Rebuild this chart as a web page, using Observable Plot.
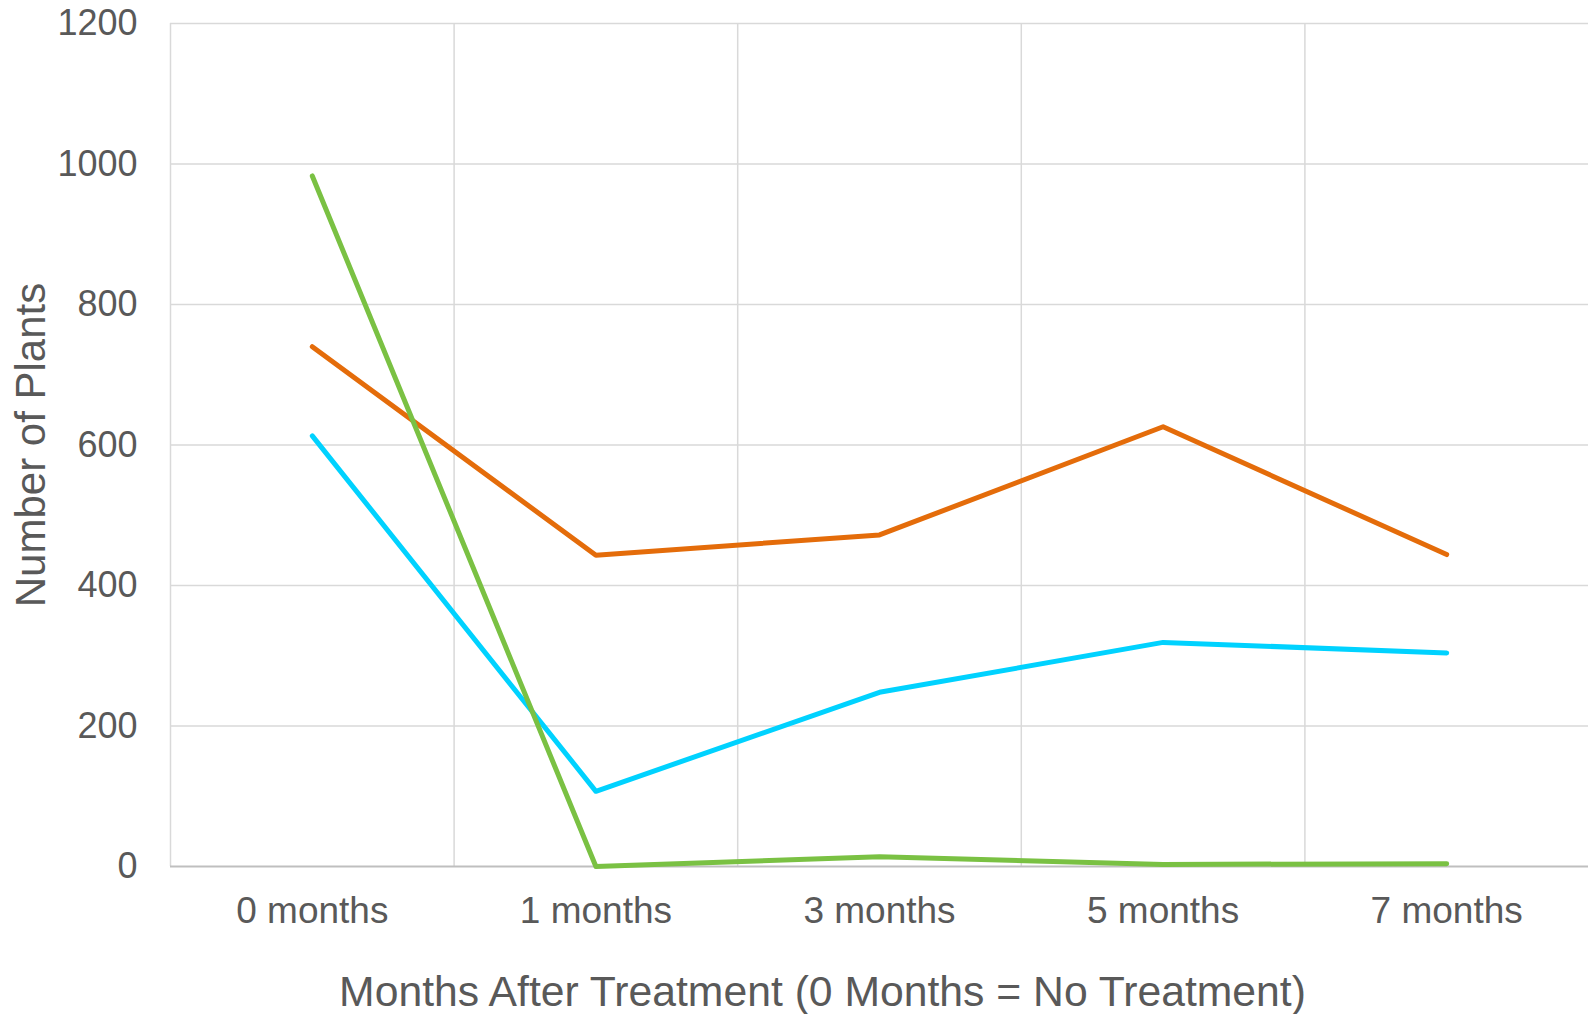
<!DOCTYPE html>
<html>
<head>
<meta charset="utf-8">
<script src="https://cdn.jsdelivr.net/npm/d3@7"></script>
<script src="https://cdn.jsdelivr.net/npm/@observablehq/plot@0.6"></script>
<style>
  html, body { margin: 0; padding: 0; background: #fff; }
  #chart svg { display: block; }
</style>
</head>
<body>
<div id="chart"></div>
<script>
// ---- Data ----
const categories = ["0 months", "1 months", "3 months", "5 months", "7 months"];
const seriesNames = ["Series 1", "Series 2", "Series 3"];
const seriesColors = ["#E46C0A", "#00D2FF", "#7AC143"];
const series1 = [740, 443, 472, 626, 444];
const series2 = [613, 107, 248, 319, 304];
const series3 = [983, 0, 14, 3, 4];
const yTicks = [0, 200, 400, 600, 800, 1000, 1200];
const xTitle = "Months After Treatment (0 Months = No Treatment)";
const yTitle = "Number of Plants";

// ---- Build table ----
const allSeries = [series1, series2, series3];
const rows = allSeries.flatMap((vals, s) =>
  vals.map((v, i) => ({ series: seriesNames[s], i, value: v }))
);
const catIndex = d3.range(categories.length);
const boundaries = catIndex.map(i => i - 0.5);

const textColor = "#595959";

const chart = Plot.plot({
  width: 1588,
  height: 1014,
  marginLeft: 170,
  marginRight: 0,
  marginTop: 23,
  marginBottom: 148,
  style: {
    fontFamily: "'Liberation Sans', Arial, sans-serif",
    color: textColor,
    background: "#ffffff"
  },
  x: { type: "linear", domain: [-0.5, categories.length - 0.5], axis: null },
  y: { domain: [0, 1200], axis: null },
  color: { domain: seriesNames, range: seriesColors },
  marks: [
    Plot.ruleY(yTicks.filter(d => d > 0), { stroke: "#d9d9d9", strokeWidth: 1.5 }),
    Plot.ruleX(boundaries, { stroke: "#d9d9d9", strokeWidth: 1.5 }),
    Plot.ruleY([0], { stroke: "#bfbfbf", strokeWidth: 2 }),
    Plot.axisX(catIndex, {
      tickSize: 0,
      tickPadding: 30,
      tickFormat: i => categories[i],
      fontSize: 37,
      fill: textColor,
      label: null
    }),
    Plot.axisY(yTicks, {
      tickSize: 0,
      tickPadding: 33,
      tickFormat: d => String(d),
      fontSize: 36,
      fill: textColor,
      label: null
    }),
    Plot.line(rows, {
      x: "i",
      y: "value",
      stroke: "series",
      strokeWidth: 5,
      strokeLinejoin: "round",
      strokeLinecap: "round"
    }),
    Plot.text([yTitle], {
      text: d => d,
      frameAnchor: "left",
      textAnchor: "middle",
      dx: -139,
      rotate: -90,
      fontSize: 42,
      fill: textColor
    }),
    Plot.text([xTitle], {
      text: d => d,
      frameAnchor: "bottom",
      textAnchor: "middle",
      dy: 139,
      dx: -57,
      fontSize: 42.7,
      fill: textColor
    })
  ]
});

document.getElementById("chart").appendChild(chart);
</script>
</body>
</html>
